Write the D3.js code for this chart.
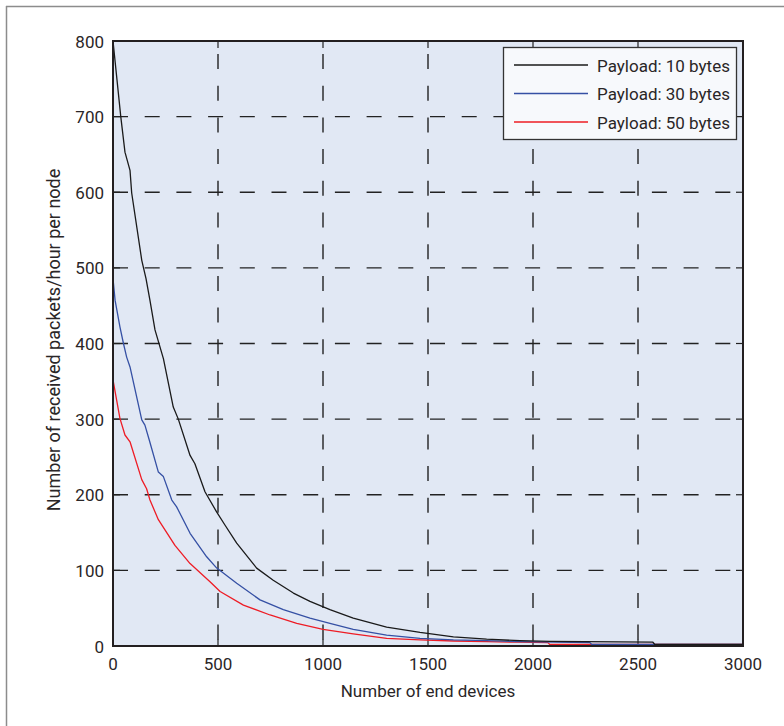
<!DOCTYPE html>
<html>
<head>
<meta charset="utf-8">
<style>
body { margin: 0; background: #fff; }
svg text { font-family: Roboto, "Liberation Sans", sans-serif; fill: #2a2627; }
</style>
</head>
<body>
<div id="chart"></div>
<script src="https://cdn.jsdelivr.net/npm/d3@7"></script>
<script>
// values
var seriesNames = ["Payload: 10 bytes", "Payload: 30 bytes", "Payload: 50 bytes"];
var seriesColors = ["#1a1a1a", "#3550a4", "#ee1c25"];

var xTen = [0, 37, 57, 81, 89, 137, 157, 176, 200, 240, 287, 311, 367, 390, 438, 494, 533, 589, 684, 763, 859, 938, 1033, 1144, 1303, 1462, 1621, 1779, 1938, 2081, 2571, 2580, 3000];
var yTen = [800, 700, 653, 629, 599, 510, 486, 457, 418, 380, 316, 300, 252, 241, 204, 177, 160, 136, 103, 87, 70, 59, 48, 37, 25, 18, 12, 9, 7, 6, 5, 2, 2];

var xThirty = [0, 10, 33, 49, 65, 81, 137, 152, 173, 216, 240, 280, 303, 367, 446, 494, 589, 700, 811, 938, 1033, 1144, 1303, 1462, 1621, 1779, 1938, 2271, 2280, 3000];
var yThirty = [486, 457, 422, 401, 382, 369, 299, 292, 272, 230, 224, 193, 184, 149, 118, 103, 83, 61, 48, 37, 30, 22, 14.5, 10, 8, 7, 5.7, 4.5, 2, 2];

var xFifty = [0, 33, 57, 81, 137, 160, 176, 216, 295, 367, 462, 510, 621, 748, 875, 1000, 1144, 1303, 1462, 1621, 1779, 1938, 2071, 2080, 3000];
var yFifty = [352, 301, 279, 270, 220, 208, 193, 167, 133, 109, 85, 72, 54, 41, 30, 22, 16, 10, 8, 6.6, 5.7, 5, 4.5, 2, 2];

var xTicks = [0, 500, 1000, 1500, 2000, 2500, 3000];
var yTicks = [0, 100, 200, 300, 400, 500, 600, 700, 800];

var series = [
    { name: seriesNames[0], color: seriesColors[0], xs: xTen, ys: yTen },
    { name: seriesNames[1], color: seriesColors[1], xs: xThirty, ys: yThirty },
    { name: seriesNames[2], color: seriesColors[2], xs: xFifty, ys: yFifty }
];

var W = 784, H = 726;
// plot box edges
var pLeft = 113, pRight = 743, pTop = 41, pBottom = 646;

var svg = d3.select("#chart").append("svg")
    .attr("width", W)
    .attr("height", H);

// outer frame (top and left only)
svg.append("line").attr("x1", 6).attr("y1", 6.5).attr("x2", W).attr("y2", 6.5)
    .attr("stroke", "#8c8c8c").attr("stroke-width", 1.5);
svg.append("line").attr("x1", 6.5).attr("y1", 6).attr("x2", 6.5).attr("y2", H)
    .attr("stroke", "#8c8c8c").attr("stroke-width", 1.5);

var x = d3.scaleLinear().domain([0, 3000]).range([pLeft, pRight]);
var y = d3.scaleLinear().domain([0, 800]).range([pBottom, pTop]);

// plot background
svg.append("rect")
    .attr("x", pLeft).attr("y", pTop)
    .attr("width", pRight - pLeft).attr("height", pBottom - pTop)
    .attr("fill", "#e1e8f4");

// dashed grid
svg.selectAll(".vgrid")
    .data(xTicks.slice(1, -1))
    .enter().append("line")
    .attr("x1", function (d) { return x(d); })
    .attr("x2", function (d) { return x(d); })
    .attr("y1", pTop).attr("y2", pBottom)
    .attr("stroke", "#222").attr("stroke-width", 1.4)
    .attr("stroke-dasharray", "15,16.7")
    .attr("stroke-dashoffset", 18.7);

svg.selectAll(".hgrid")
    .data(yTicks.slice(1, -1))
    .enter().append("line")
    .attr("y1", function (d) { return y(d); })
    .attr("y2", function (d) { return y(d); })
    .attr("x1", pLeft).attr("x2", pRight)
    .attr("stroke", "#222").attr("stroke-width", 1.4)
    .attr("stroke-dasharray", "15,16.7");

// inner tick marks on all four sides
var tickLen = 7;
xTicks.forEach(function (d) {
    svg.append("line").attr("x1", x(d)).attr("x2", x(d)).attr("y1", pBottom).attr("y2", pBottom - tickLen)
        .attr("stroke", "#222").attr("stroke-width", 1.2);
    svg.append("line").attr("x1", x(d)).attr("x2", x(d)).attr("y1", pTop).attr("y2", pTop + tickLen)
        .attr("stroke", "#222").attr("stroke-width", 1.2);
});
yTicks.forEach(function (d) {
    svg.append("line").attr("x1", pLeft).attr("x2", pLeft + tickLen).attr("y1", y(d)).attr("y2", y(d))
        .attr("stroke", "#222").attr("stroke-width", 1.2);
    svg.append("line").attr("x1", pRight).attr("x2", pRight - tickLen).attr("y1", y(d)).attr("y2", y(d))
        .attr("stroke", "#222").attr("stroke-width", 1.2);
});

// curves
var line = d3.line()
    .x(function (d) { return x(d[0]); })
    .y(function (d) { return y(d[1]); });

series.slice().reverse().forEach(function (s) {
    var pts = d3.zip(s.xs, s.ys);
    svg.append("path")
        .attr("d", line(pts))
        .attr("fill", "none")
        .attr("stroke", s.color)
        .attr("stroke-width", 1.3)
        .attr("stroke-linejoin", "round");
});

// plot box
svg.append("rect")
    .attr("x", pLeft).attr("y", pTop)
    .attr("width", pRight - pLeft).attr("height", pBottom - pTop)
    .attr("fill", "none")
    .attr("stroke", "#231f20").attr("stroke-width", 2);

// tick labels
svg.selectAll(".xlab")
    .data(xTicks)
    .enter().append("text")
    .attr("x", function (d) { return x(d); })
    .attr("y", 670)
    .attr("text-anchor", "middle")
    .style("font-size", "17px")
    .text(function (d) { return d; });

svg.selectAll(".ylab")
    .data(yTicks)
    .enter().append("text")
    .attr("x", 104)
    .attr("y", function (d) { return y(d) + 6.5; })
    .attr("text-anchor", "end")
    .style("font-size", "17px")
    .text(function (d) { return d; });

// axis titles
svg.append("text")
    .attr("x", 428).attr("y", 697)
    .attr("text-anchor", "middle")
    .style("font-size", "17px")
    .text("Number of end devices");

svg.append("text")
    .attr("transform", "translate(60,340) rotate(-90)")
    .attr("text-anchor", "middle")
    .style("font-size", "18px")
    .text("Number of received packets/hour per node");

// legend
var lg = svg.append("g");
lg.append("rect")
    .attr("x", 503.5).attr("y", 47.5)
    .attr("width", 233).attr("height", 92)
    .attr("fill", "#f7f9fc")
    .attr("stroke", "#333").attr("stroke-width", 1.3);

series.forEach(function (s, i) {
    var ly = 65 + i * 28.5;
    lg.append("line")
        .attr("x1", 514).attr("x2", 588)
        .attr("y1", ly).attr("y2", ly)
        .attr("stroke", s.color).attr("stroke-width", 1.3);
    lg.append("text")
        .attr("x", 597).attr("y", ly + 6.5)
        .style("font-size", "17px")
        .text(s.name);
});
</script>
</body>
</html>
